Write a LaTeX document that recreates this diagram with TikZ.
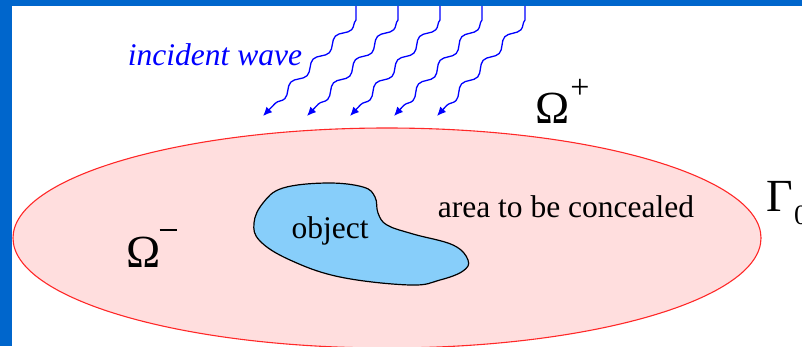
\documentclass[tikz,border=0pt]{standalone}
\usepackage{fontspec}
\setmainfont{Liberation Serif}
\usetikzlibrary{decorations.pathmorphing,arrows.meta}
\definecolor{frameblue}{RGB}{0,102,204}
\definecolor{regionpink}{RGB}{255,222,222}
\definecolor{regionred}{RGB}{255,40,40}
\definecolor{objblue}{RGB}{135,206,250}
\begin{document}
\begin{tikzpicture}[x=1pt,y=-1pt,
  lbl/.style={inner sep=0pt,anchor=base,font=\fontsize{31.5}{36}\selectfont},
  biglbl/.style={inner sep=0pt,anchor=base,font=\fontsize{46}{50}\selectfont},
  wave/.style={blue,line width=1.3pt,-{Latex[length=9pt,width=8pt]},
    decoration={snake,segment length=32pt,amplitude=3.6pt,post length=5pt}},
]
\useasboundingbox (0,0) rectangle (802,346);
\begin{scope}
\clip (0,0) rectangle (802,346);
% outer region
\draw[regionred,fill=regionpink,line width=1.1pt] (387,238) ellipse [x radius=374, y radius=110];
% object
\draw[black,fill=objblue,line width=1.2pt] plot[smooth cycle,tension=0.65] coordinates {
 (254,223) (263,203) (283,188) (327,183) (363,187) (375,197) (378,213) (387,225)
 (413,234) (453,245) (468,260) (463,271) (440,280) (410,285) (340,277) (290,260) (260,241)};
% labels
\node[lbl] (obj) at (330,238) {object};
\node[lbl] (area) at (566,217) {area to be concealed};
\node[lbl,text=blue,font=\fontsize{31.5}{36}\selectfont\itshape] (inc) at (215,65) {incident wave};
\node[biglbl] (op) at (553,123) {Ω};
\node[inner sep=0pt,font=\fontsize{34}{38}\selectfont] (opp) at (580,89) {+};
\node[biglbl] (om) at (144,267) {Ω};
\node[inner sep=0pt] (omm) at (168,230) {\rule{17pt}{1.6pt}};
\node[biglbl] (gam) at (780,211) {Γ};
\node[inner sep=0pt,anchor=base west,font=\fontsize{28}{32}\selectfont] (gsub) at (794,224) {0};
% incident waves
\foreach \i/\tx/\hx in {1/356/263, 2/398/307, 3/440/350, 4/482/394, 5/525/437} {
  \coordinate (w\i s) at (\tx,6);
  \coordinate (w\i m) at (\tx,20);
  \coordinate (w\i e) at (\hx,116);
  \draw[wave] (w\i s) -- (w\i m) decorate {-- (w\i e)};
}
\end{scope}
% frame
\fill[frameblue] (0,0) rectangle (802,6);
\fill[frameblue] (0,0) rectangle (12,346);
\end{tikzpicture}
\end{document}
